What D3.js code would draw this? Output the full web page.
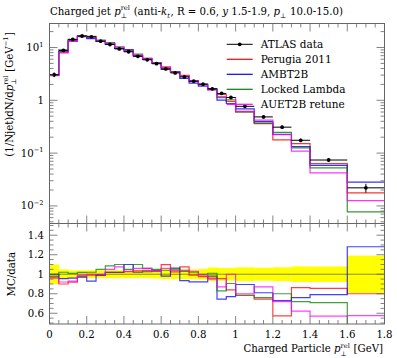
<!DOCTYPE html>
<html><head><meta charset="utf-8">
<script src="https://cdn.jsdelivr.net/npm/d3@7"></script>
<style>body{margin:0;background:#fff} text{white-space:pre}</style>
</head><body>
<svg id="c" width="397" height="358" xmlns="http://www.w3.org/2000/svg"></svg>
<script>
// ---------------- DATA ----------------
const binEdges = [0,0.05,0.1,0.15,0.2,0.25,0.3,0.35,0.4,0.45,0.5,0.55,0.6,0.65,0.7,0.75,0.8,0.85,0.9,0.95,1.0,1.1,1.2,1.3,1.4,1.6,1.8];
const atlasData = [3.05,8.8,14.2,16.5,15.9,13.2,11.4,9.4,8.3,6.8,5.85,4.93,3.93,3.30,2.77,2.30,2.02,1.65,1.35,1.13,0.77,0.485,0.31,0.175,0.074,0.022];
const atlasErr = [0.305,0.44,0.57,0.66,0.64,0.53,0.46,0.38,0.33,0.27,0.23,0.22,0.20,0.165,0.14,0.115,0.11,0.115,0.088,0.073,0.054,0.032,0.022,0.014,0.0059,0.0042];
const perugia2011 = [2.96,7.92,13.06,16.17,15.74,13.07,11.63,9.59,8.51,7.04,6.08,5.13,4.32,3.38,2.98,2.28,1.97,1.584,1.289,0.949,0.604,0.361,0.178,0.151,0.0633,0.0176];
const ambt2b = [3.05,8.40,13.63,16.01,14.79,13.07,11.63,9.59,9.13,6.94,6.00,5.08,3.85,3.51,2.59,2.12,1.86,1.617,1.006,0.870,0.689,0.393,0.226,0.133,0.0585,0.0282];
const lockedLambda = [2.99,8.98,14.34,16.83,16.22,13.86,12.37,10.34,8.72,7.48,6.20,5.18,4.09,3.47,2.85,2.35,2.02,1.667,1.121,1.023,0.604,0.369,0.248,0.126,0.0525,0.0077];
const auet2bRetune = [2.93,8.10,13.21,16.34,15.9,13.2,11.97,10.11,8.55,7.21,6.20,5.08,4.17,3.43,2.88,2.37,2.00,1.568,1.175,1.13,0.616,0.422,0.223,0.109,0.0422,0.01265];
const seriesNames = ["Perugia 2011","AMBT2B","Locked Lambda","AUET2B retune"];
const seriesColors = ["#ff0000","#0000ff","#008000","#ff00ff"];
const dataName = "ATLAS data";
const xTickValues = [0,0.2,0.4,0.6,0.8,1.0,1.2,1.4,1.6,1.8];
const xTickLabels = ["0","0.2","0.4","0.6","0.8","1","1.2","1.4","1.6","1.8"];
const yMainTicks = [0.01,0.1,1,10];
const yMainTickLabels = [["10","−2"],["10","−1"],["1",""],["10","1"]];
const yRatioTicks = [0.6,0.8,1.0,1.2,1.4];
const yRatioTickLabels = ["0.6","0.8","1","1.2","1.4"];

// ---------------- LAYOUT ----------------
const FONT = "DejaVu Serif";
const FS = 10.2;
const L = 49.5, R = 384.5, T = 23.5, MB = 223.5, RB = 324;
const svg = d3.select("#c");
svg.append("rect").attr("width",397).attr("height",358).attr("fill","#fff");

const x = d3.scaleLinear().domain([0,1.8]).range([L,R]);
const y = d3.scaleLog().domain([Math.pow(10,-2.333),Math.pow(10,1.4545)]).range([MB,T]);
const yr = d3.scaleLinear().domain([0.49,1.52]).range([RB,MB]);

const defs = svg.append("defs");
defs.append("clipPath").attr("id","cm").append("rect").attr("x",L).attr("y",T).attr("width",R-L).attr("height",MB-T);
defs.append("clipPath").attr("id","cr").append("rect").attr("x",L).attr("y",MB).attr("width",R-L).attr("height",RB-MB);

const meas = svg.append("text").attr("font-family",FONT).attr("visibility","hidden");
function tw(str,size,it){
  meas.attr("font-size",size).attr("font-style",it?"italic":"normal").text(str);
  return meas.node().getComputedTextLength();
}
function rich(parent, segs, size, anchor){
  const parts = [];
  let cx = 0;
  const ss = size*0.65;
  segs.forEach(s=>{
    if (s.t !== undefined){
      parts.push({x:cx,y:0,s:size,it:!!s.it,txt:s.t});
      cx += tw(s.t,size,s.it);
    } else {
      let w = 0;
      if (s.sup){ parts.push({x:cx,y:-size*0.43,s:ss,it:!!s.supIt,txt:s.sup}); w=Math.max(w,tw(s.sup,ss,s.supIt)); }
      if (s.sub){ parts.push({x:cx,y:size*0.36,s:ss,it:!!s.subIt,txt:s.sub}); w=Math.max(w,tw(s.sub,ss,s.subIt)); }
      cx += w + 0.5;
    }
  });
  const shift = anchor==="end" ? -cx : anchor==="middle" ? -cx/2 : 0;
  const t = parent.append("text").attr("font-family",FONT).attr("font-size",size);
  parts.forEach(p=>{
    t.append("tspan").attr("x",p.x+shift).attr("y",p.y).attr("font-size",p.s)
      .attr("font-style",p.it?"italic":"normal").text(p.txt);
  });
  return t;
}

// ---------------- RATIO BAND ----------------
const nb = atlasData.length;
const bins = d3.range(nb).map(i=>({x0:binEdges[i],x1:binEdges[i+1],v:atlasData[i],e:atlasErr[i]}));
const rg = svg.append("g").attr("clip-path","url(#cr)");
rg.selectAll("rect.band").data(bins).join("rect")
  .attr("x",d=>x(d.x0)).attr("width",d=>x(d.x1)-x(d.x0)+0.3)
  .attr("y",d=>yr(1+d.e/d.v)).attr("height",d=>yr(1-d.e/d.v)-yr(1+d.e/d.v))
  .attr("fill","#ffff00");
rg.append("line").attr("x1",L).attr("x2",R).attr("y1",yr(1)).attr("y2",yr(1))
  .attr("stroke","#000").attr("stroke-opacity",0.45).attr("stroke-width",1);

const mcSeries = [perugia2011, ambt2b, lockedLambda, auet2bRetune];
function stepPts(vals){
  const pts = vals.map((v,i)=>[binEdges[i],v]);
  pts.push([binEdges[nb], vals[nb-1]]);
  return pts;
}
const lineR = d3.line().x(d=>x(d[0])).y(d=>yr(d[1])).curve(d3.curveStepAfter);
mcSeries.forEach((s,k)=>{
  const ratio = s.map((v,i)=>v/atlasData[i]);
  rg.append("path").attr("d",lineR(stepPts(ratio))).attr("fill","none")
    .attr("stroke",seriesColors[k]).attr("stroke-width",1.2).attr("stroke-opacity",0.75);
});

// ---------------- MAIN ----------------
const mg = svg.append("g").attr("clip-path","url(#cm)");
const lineM = d3.line().x(d=>x(d[0])).y(d=>y(d[1])).curve(d3.curveStepAfter);
mcSeries.forEach((s,k)=>{
  mg.append("path").attr("d",lineM(stepPts(s))).attr("fill","none")
    .attr("stroke",seriesColors[k]).attr("stroke-width",1.2).attr("stroke-opacity",0.8);
});
mg.selectAll("line.xe").data(bins).join("line")
  .attr("x1",d=>x(d.x0)).attr("x2",d=>x(d.x1)).attr("y1",d=>y(d.v)).attr("y2",d=>y(d.v))
  .attr("stroke","#000").attr("stroke-width",1);
mg.selectAll("line.ye").data(bins).join("line")
  .attr("x1",d=>x((d.x0+d.x1)/2)).attr("x2",d=>x((d.x0+d.x1)/2))
  .attr("y1",d=>y(d.v+d.e)).attr("y2",d=>y(d.v-d.e))
  .attr("stroke","#000").attr("stroke-width",1);
mg.selectAll("circle").data(bins).join("circle")
  .attr("cx",d=>x((d.x0+d.x1)/2)).attr("cy",d=>y(d.v)).attr("r",1.9).attr("fill","#000");

// ---------------- FRAMES & TICKS ----------------
const fr = svg.append("g").attr("fill","none").attr("stroke","#666").attr("stroke-width",1);
fr.append("rect").attr("x",L).attr("y",T).attr("width",R-L).attr("height",MB-T);
fr.append("rect").attr("x",L).attr("y",MB).attr("width",R-L).attr("height",RB-MB);

const tk = svg.append("g").attr("stroke","#666").attr("stroke-width",0.8);
const MAJ = 8, MIN = 4;
d3.range(0,37).map(i=>i*0.05).forEach(v=>{
  const isMaj = Math.abs(v/0.2 - Math.round(v/0.2))<1e-6;
  const len = isMaj?MAJ:MIN, px = x(v);
  [[T,1],[MB,-1],[MB,1],[RB,-1]].forEach(([y0,dir])=>{
    tk.append("line").attr("x1",px).attr("x2",px).attr("y1",y0).attr("y2",y0+dir*len);
  });
});
for (let e=-3;e<=1;e++){
  for (let m=1;m<=9;m++){
    const v = m*Math.pow(10,e);
    if (v<y.domain()[0]||v>y.domain()[1]) continue;
    const len = m===1?MAJ:MIN, py=y(v);
    tk.append("line").attr("x1",L).attr("x2",L+len).attr("y1",py).attr("y2",py);
    tk.append("line").attr("x1",R).attr("x2",R-len).attr("y1",py).attr("y2",py);
  }
}
d3.range(0,21).map(i=>0.5+i*0.05).forEach(v=>{
  if (v<yr.domain()[0]||v>yr.domain()[1]) return;
  const isMaj = Math.round(v*100)%20===0;
  const len = isMaj?MAJ:MIN, py=yr(v);
  tk.append("line").attr("x1",L).attr("x2",L+len).attr("y1",py).attr("y2",py);
  tk.append("line").attr("x1",R).attr("x2",R-len).attr("y1",py).attr("y2",py);
});

// ---------------- LABELS ----------------
const lab = svg.append("g").attr("fill","#000");
xTickValues.forEach((v,i)=>{
  lab.append("text").attr("x",x(v)).attr("y",338).attr("text-anchor","middle")
    .attr("font-family",FONT).attr("font-size",FS).text(xTickLabels[i]);
});
yMainTicks.forEach((v,i)=>{
  const g = lab.append("g").attr("transform",`translate(44,${y(v)+3.5})`);
  const [b,s] = yMainTickLabels[i];
  rich(g, s ? [{t:b},{sup:s}] : [{t:b}], FS, "end");
});
yRatioTicks.forEach((v,i)=>{
  lab.append("text").attr("x",44).attr("y",yr(v)+3.5).attr("text-anchor","end")
    .attr("font-family",FONT).attr("font-size",FS).text(yRatioTickLabels[i]);
});

rich(lab.append("g").attr("transform","translate(50,14.5)"),
  [{t:"Charged jet "},{t:"p",it:true},{sup:"rel",sub:"⊥"},{t:" (anti-"},{t:"k",it:true},{sub:"t",subIt:true},
   {t:", R = 0.6, "},{t:"y",it:true},{t:" 1.5-1.9, "},{t:"p",it:true},{sub:"⊥"},{t:" 10.0-15.0)"}], FS, "start");
rich(lab.append("g").attr("transform","translate(383,352)"),
  [{t:"Charged Particle "},{t:"p",it:true},{sup:"rel",sub:"⊥"},{t:" [GeV]"}], FS, "end");
rich(lab.append("g").attr("transform","translate(12.5,32) rotate(-90)"),
  [{t:"(1/Njet)dN/d"},{t:"p",it:true},{sup:"rel",sub:"⊥"},{t:" [GeV"},{sup:"−1"},{t:"]"}], FS, "end");
rich(lab.append("g").attr("transform",`translate(14.5,${yr(1)}) rotate(-90)`),
  [{t:"MC/data"}], FS, "middle");

// legend
const lg = svg.append("g");
const legX0 = 226.7, legX1 = 252.7, legTx = 260.7, legY0 = 44.3, legDy = 15;
lg.append("line").attr("x1",legX0).attr("x2",legX1).attr("y1",legY0).attr("y2",legY0).attr("stroke","#000").attr("stroke-width",1);
lg.append("circle").attr("cx",(legX0+legX1)/2).attr("cy",legY0).attr("r",1.9).attr("fill","#000");
lg.append("text").attr("x",legTx).attr("y",legY0+3.8).attr("font-family",FONT).attr("font-size",10.5).text(dataName);
seriesNames.forEach((n,k)=>{
  const yy = legY0+legDy*(k+1);
  lg.append("line").attr("x1",legX0).attr("x2",legX1).attr("y1",yy).attr("y2",yy).attr("stroke",seriesColors[k]).attr("stroke-width",1.2);
  lg.append("text").attr("x",legTx).attr("y",yy+3.8).attr("font-family",FONT).attr("font-size",10.5).text(n);
});
meas.remove();
</script>
</body></html>
